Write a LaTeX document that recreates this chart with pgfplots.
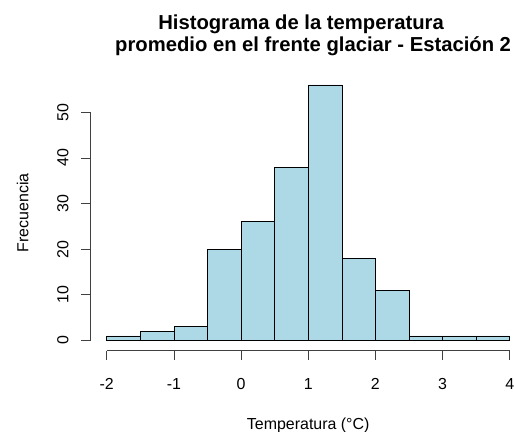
\documentclass[border=0pt]{standalone}
\usepackage{pgfplots}
\pgfplotsset{compat=1.18}
\usepackage{fontspec}
\setmainfont{Liberation Sans}
\definecolor{lightblue}{HTML}{ADD8E6}
\begin{document}
\begin{tikzpicture}[x=1bp,y=1bp]
\begin{axis}[
  scale only axis,
  width=423bp, height=276bp,
  xmin=-2.24, xmax=4.06,
  ymin=-2.24, ymax=58.24,
  axis line style={draw=none},
  clip=false,
  xtick={-2,-1,0,1,2,3,4},
  ytick={0,10,20,30,40,50},
  xtick pos=bottom, ytick pos=left,
  tick align=outside,
  major tick length=9.5bp,
  tick style={black!75, line width=0.7pt},
  /pgf/number format/assume math mode=true,
  ticklabel style={font=\fontsize{16}{19}\selectfont},
  xticklabel style={anchor=base, yshift=-29.5bp},
  yticklabel style={xshift=-12.8bp, rotate=90, anchor=base},
  xlabel={Temperatura (°C)},
  ylabel={Frecuencia},
  label style={font=\fontsize{16}{19}\selectfont},
  xlabel style={at={(axis cs:1,-19.55)}, anchor=base},
  ylabel style={at={(axis cs:-3.167,28)}, anchor=base},
]
\draw[line width=0.7pt, black!75] (axis cs:-2,-2.24) -- (axis cs:4,-2.24);
\draw[line width=0.7pt, black!75] (axis cs:-2.24,0) -- (axis cs:-2.24,50);
\addplot[ybar interval, fill=lightblue, draw=black, line width=0.6pt] coordinates {
(-2,1) (-1.5,2) (-1,3) (-0.5,20) (0,26) (0.5,38) (1,56) (1.5,18) (2,11) (2.5,1) (3,1) (3.5,1) (4,1)};
\node[font=\fontsize{20.3}{22}\selectfont\bfseries, anchor=base] at (axis cs:0.894,68.17)
  {Histograma de la temperatura};
\node[font=\fontsize{20.3}{22}\selectfont\bfseries, anchor=base] at (axis cs:1.073,63.27)
  {promedio en el frente glaciar - Estación 2};
\coordinate (bl) at (axis cs:-3.5885,-20.0);
\coordinate (tr) at (axis cs:4.0637,74.58);
\end{axis}
\pgfresetboundingbox
\useasboundingbox (bl) rectangle (tr);
\end{tikzpicture}
\end{document}
